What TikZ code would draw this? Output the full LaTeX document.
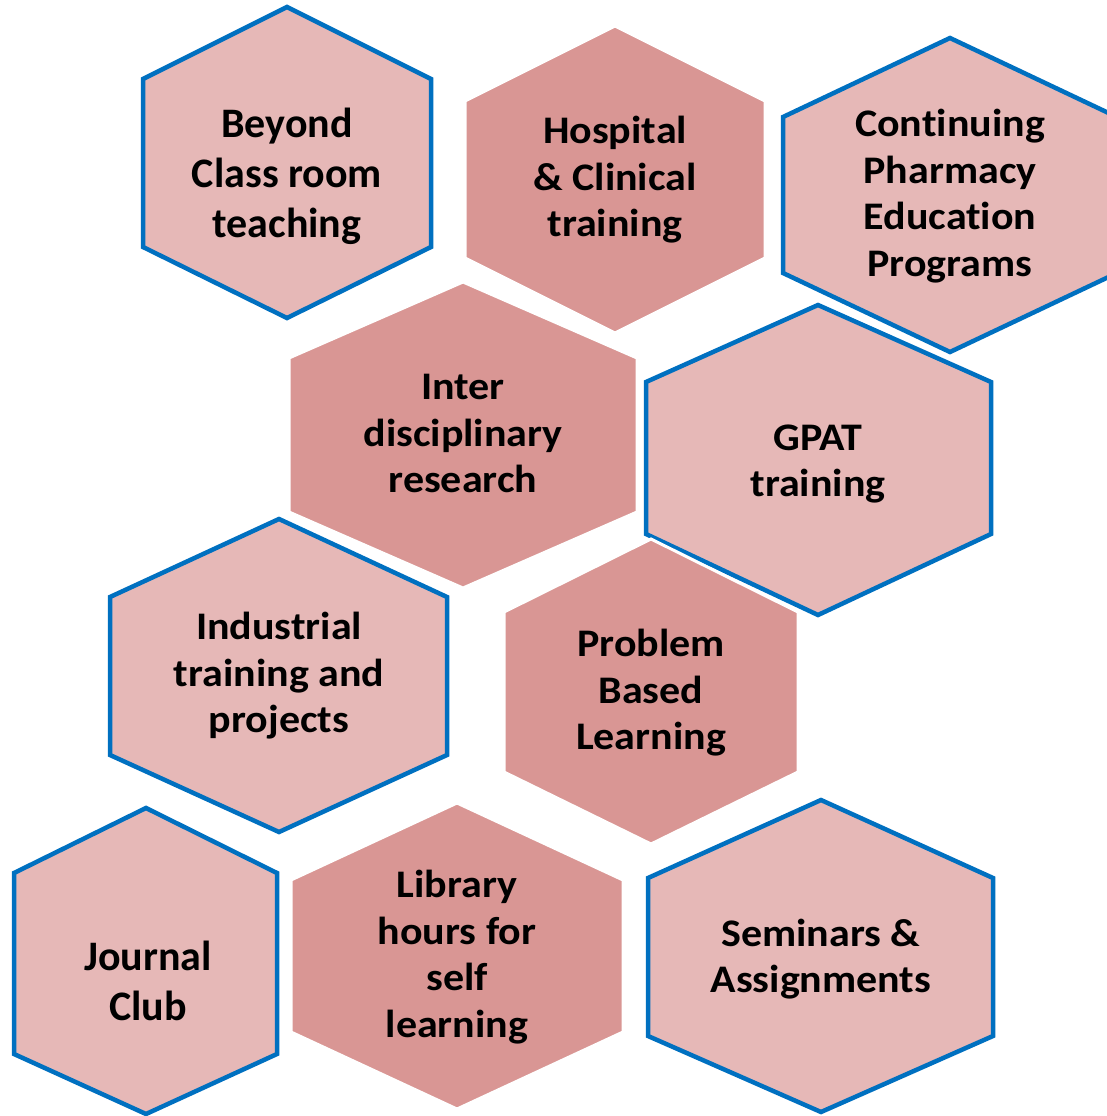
\documentclass[tikz,border=0pt]{standalone}
\usepackage{fontspec}
\setmainfont{Carlito}[RawFeature={-liga}]
\usepackage{graphicx}
\definecolor{lightp}{HTML}{E6B8B7}
\definecolor{darkp}{HTML}{D99694}
\definecolor{hexblue}{HTML}{0070C0}
\newcommand\hexlbl[1]{\begin{tabular}{@{}c@{}}#1\end{tabular}}
\newcommand\sqlbl[1]{\scalebox{1}[0.93]{\hexlbl{#1}}}
% \hexshape{style}{cx}{left}{right}{top}{shoulder1}{shoulder2}{bottom}
\newcommand\hexshape[8]{\draw[#1] (#2,#5) -- (#4,#6) -- (#4,#7) -- (#2,#8) -- (#3,#7) -- (#3,#6) -- cycle;}
\begin{document}
\begin{tikzpicture}[x=1pt,y=-1pt,
  lighthex/.style={fill=lightp,draw=hexblue,line width=4.5pt,line join=miter},
  darkhex/.style={fill=darkp,draw=white,line width=3pt,line join=miter},
  lbl/.style={inner sep=0pt,text=black,font=\fontsize{42}{50}\selectfont\bfseries}]
\useasboundingbox (0,0) rectangle (1107,1116);
\fill[white] (0,0) rectangle (1107,1116);
\clip (0,0) rectangle (1107,1116);
% row 1
\hexshape{lighthex}{287}{143}{431}{7}{79}{247}{318}
\node[lbl] (beyond) at (287,177) {\hexlbl{Beyond\\Class room\\teaching}};
\hexshape{darkhex}{615}{465}{765}{26}{101}{258}{333}
\node[lbl] (hospital) at (615,181) {\sqlbl{Hospital\\\& Clinical\\training}};
\hexshape{lighthex}{950}{783}{1117}{38}{117}{273}{352}
\node[lbl] (cpe) at (950,197) {\sqlbl{Continuing\\Pharmacy\\Education\\Programs}};
% row 2
\hexshape{darkhex}{463}{289}{637}{282}{358}{512}{588}
\node[lbl] (inter) at (463,437) {\sqlbl{Inter\\disciplinary\\research}};
\hexshape{lighthex}{818}{646}{991}{305}{382}{534}{615}
\node[lbl] (gpat) at (818,464) {\sqlbl{GPAT\\training}};
% row 3
\hexshape{lighthex}{279}{110}{447}{519}{597}{755}{832}
\node[lbl] (industrial) at (279,677) {\sqlbl{Industrial\\training and\\projects}};
\hexshape{darkhex}{651}{504}{798}{539}{612}{772}{844}
\node[lbl] (pbl) at (651,694) {\sqlbl{Problem\\Based\\Learning}};
% row 4
\hexshape{lighthex}{146}{14}{277}{808}{873}{1054}{1114}
\node[lbl] (journal) at (148,985) {\hexlbl{Journal\\Club}};
\hexshape{darkhex}{457}{291}{623}{803}{880}{1032}{1109}
\node[lbl] (library) at (457,958) {\sqlbl{Library\\hours for\\self\\learning}};
\hexshape{lighthex}{821}{648}{993}{800}{878}{1036}{1112}
\node[lbl] (seminars) at (821,960) {\sqlbl{Seminars \&\\Assignments}};
\end{tikzpicture}
\end{document}
